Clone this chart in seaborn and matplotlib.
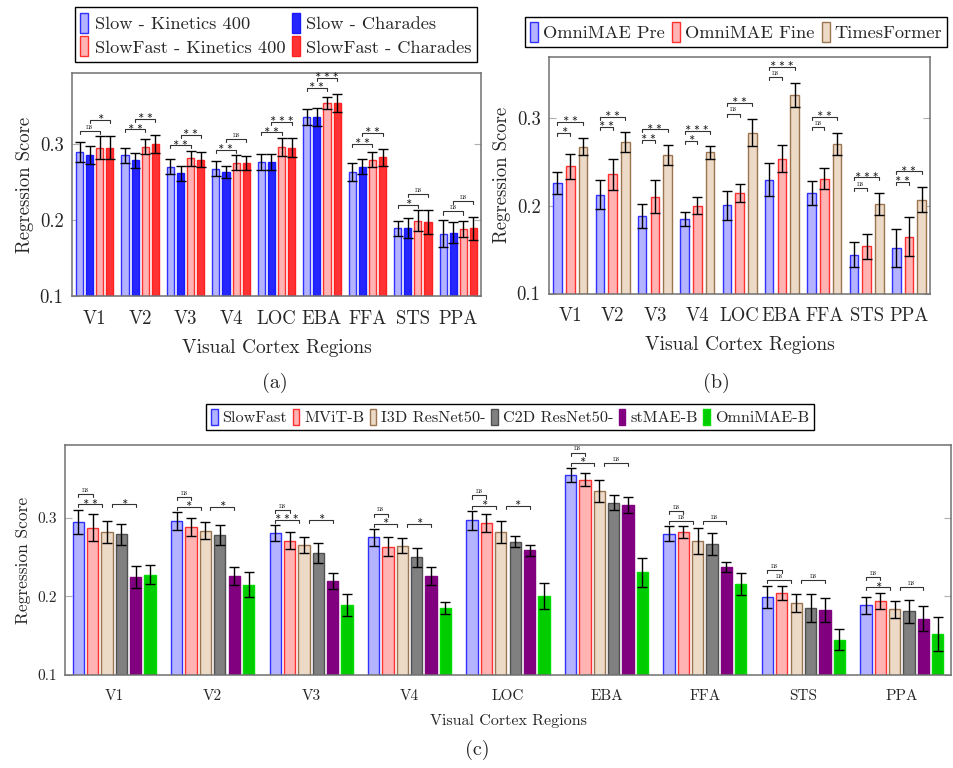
import matplotlib
matplotlib.use("Agg")
import matplotlib.pyplot as plt
from matplotlib.patches import Patch
import seaborn as sns
import pandas as pd

regions = ["V1", "V2", "V3", "V4", "LOC", "EBA", "FFA", "STS", "PPA"]

# (a) Slow / SlowFast backbones
models_a = ["Slow - Kinetics 400", "Slow - Charades", "SlowFast - Kinetics 400", "SlowFast - Charades"]
slow_k400 = [0.289, 0.285, 0.270, 0.267, 0.276, 0.335, 0.263, 0.189, 0.182]
slow_cha = [0.285, 0.278, 0.261, 0.263, 0.276, 0.335, 0.270, 0.189, 0.183]
sf_k400 = [0.295, 0.296, 0.281, 0.275, 0.296, 0.354, 0.279, 0.199, 0.188]
sf_cha = [0.295, 0.300, 0.279, 0.275, 0.295, 0.354, 0.282, 0.197, 0.189]
slow_k400_err = [0.013, 0.010, 0.010, 0.010, 0.010, 0.010, 0.012, 0.010, 0.018]
slow_cha_err = [0.012, 0.010, 0.010, 0.008, 0.010, 0.012, 0.010, 0.013, 0.014]
sf_k400_err = [0.015, 0.010, 0.010, 0.010, 0.012, 0.008, 0.010, 0.014, 0.011]
sf_cha_err = [0.015, 0.012, 0.010, 0.009, 0.012, 0.012, 0.011, 0.016, 0.015]
sig_a_low = ["ns", "**", "**", "**", "**", "**", "**", "*", "ns"]
sig_a_high = ["*", "**", "**", "ns", "***", "***", "**", "ns", "ns"]

# (b) OmniMAE vs TimesFormer
models_b = ["OmniMAE Pre", "OmniMAE Fine", "TimesFormer"]
omni_pre = [0.2265, 0.213, 0.1886, 0.1848, 0.201, 0.230, 0.2146, 0.1444, 0.1517]
omni_fine = [0.245, 0.236, 0.2106, 0.2003, 0.2145, 0.254, 0.231, 0.1537, 0.165]
timesformer = [0.2676, 0.273, 0.258, 0.261, 0.2836, 0.327, 0.271, 0.202, 0.207]
omni_pre_err = [0.0126, 0.017, 0.014, 0.008, 0.0165, 0.019, 0.014, 0.014, 0.0217]
omni_fine_err = [0.014, 0.018, 0.019, 0.0095, 0.0103, 0.015, 0.012, 0.0145, 0.022]
timesformer_err = [0.010, 0.011, 0.0114, 0.007, 0.0156, 0.0137, 0.0126, 0.0126, 0.0145]
sig_b_low = ["*", "**", "**", "*", "ns", "ns", "ns", "ns", "**"]
sig_b_high = ["**", "**", "**", "***", "**", "***", "**", "***", "**"]

# (c) six video models
models_c = ["SlowFast", "MViT-B", "I3D ResNet50-", "C2D ResNet50-", "stMAE-B", "OmniMAE-B"]
slowfast = [0.2949, 0.2957, 0.2808, 0.2753, 0.297, 0.3549, 0.280, 0.1995, 0.1889]
mvit = [0.2876, 0.2885, 0.271, 0.2633, 0.2936, 0.349, 0.282, 0.2046, 0.1948]
i3d = [0.282, 0.2838, 0.266, 0.2646, 0.2821, 0.3349, 0.2706, 0.1918, 0.1838]
c2d = [0.279, 0.2783, 0.2553, 0.250, 0.2697, 0.3195, 0.2672, 0.1855, 0.1812]
stmae = [0.2246, 0.2259, 0.220, 0.2267, 0.2586, 0.317, 0.2378, 0.1829, 0.1718]
omnimae = [0.2276, 0.2148, 0.189, 0.1855, 0.2012, 0.2306, 0.2157, 0.145, 0.152]
slowfast_err = [0.0158, 0.0115, 0.0098, 0.0106, 0.012, 0.0085, 0.0094, 0.014, 0.011]
mvit_err = [0.0175, 0.011, 0.0106, 0.0123, 0.011, 0.0085, 0.0072, 0.0094, 0.0102]
i3d_err = [0.014, 0.011, 0.0102, 0.0094, 0.0136, 0.014, 0.0166, 0.011, 0.011]
c2d_err = [0.013, 0.013, 0.013, 0.0123, 0.0072, 0.0094, 0.014, 0.0175, 0.0145]
stmae_err = [0.014, 0.0115, 0.0102, 0.0115, 0.0072, 0.0102, 0.006, 0.0149, 0.0158]
omnimae_err = [0.0123, 0.0158, 0.014, 0.008, 0.0166, 0.019, 0.0136, 0.0136, 0.022]
sig_c_top = ["ns", "ns", "ns", "ns", "ns", "ns", "ns", "ns", "ns"]
sig_c_mid = ["**", "*", "***", "*", "*", "*", "ns", "ns", "*"]
sig_c_right = ["*", "*", "*", "*", "*", "ns", "ns", "ns", "ns"]

sns.set_style("white")
plt.rcParams["font.family"] = ["cmr10", "DejaVu Serif"]
plt.rcParams["axes.formatter.use_mathtext"] = True


def long_df(models, series):
    rows = []
    for m, vals in zip(models, series):
        for r, v in zip(regions, vals):
            rows.append({"region": r, "model": m, "score": v})
    return pd.DataFrame(rows)


def draw_bars(ax, models, series, errs, faces, edges, width, gap):
    df = long_df(models, series)
    sns.barplot(data=df, x="region", y="score", hue="model", hue_order=models,
                palette=faces, saturation=1, width=width, gap=gap,
                errorbar=None, linewidth=1, legend=False, ax=ax)
    centers = []
    for cont, ec, err in zip(ax.containers, edges, errs):
        xs = []
        for b in cont:
            b.set_edgecolor(ec)
            xs.append(b.get_x() + b.get_width() / 2)
        ys = [b.get_height() for b in cont]
        ax.errorbar(xs, ys, yerr=err, fmt="none", ecolor="black", elinewidth=1,
                    capsize=3.5, capthick=1, zorder=5)
        centers.append(xs)
    return centers


def bracket(ax, x0, x1, y, label, drop, fs):
    ax.plot([x0, x0, x1, x1], [y - drop, y, y, y - drop], color="#333333", lw=0.8, zorder=6)
    if label == "ns":
        ax.text((x0 + x1) / 2, y + drop * 0.1, label, ha="center", va="bottom",
                fontsize=fs, color="#222222")
    else:
        # math asterisks sitting just above the bracket
        ax.text((x0 + x1) / 2, y + drop * 0.25, " ".join("\u2217" * len(label)),
                ha="center", va="baseline", fontsize=fs, color="#222222",
                family="DejaVu Sans")


def style_axes(ax, ylabel_fs, tick_fs):
    ax.set_ylim(0.1, 0.393)
    ax.set_yticks([0.1, 0.2, 0.3])
    ax.set_yticklabels(["0.1", "0.2", "0.3"])
    ax.set_xlim(-0.5, 8.5)
    for s in ax.spines.values():
        s.set_visible(True)
        s.set_color("#707070")
        s.set_linewidth(1.1)
    ax.tick_params(axis="y", direction="in", left=True, right=True, length=5,
                   color="#b0b0b0", labelsize=tick_fs, pad=6)
    ax.tick_params(axis="x", length=0, labelsize=tick_fs, pad=10)
    ax.set_ylabel("Regression Score", fontsize=ylabel_fs)


fig = plt.figure(figsize=(9.54, 7.68), dpi=100)

# ---- (a)
ax_a = fig.add_axes([0.0755, 0.6146, 0.4287, 0.2904])
faces_a = ["#b3b3ff", "#2626ff", "#ffb3b3", "#ff3333"]
edges_a = ["#3030ff", "#1a1aff", "#ff3030", "#ff2020"]
cen = draw_bars(ax_a, models_a, [slow_k400, slow_cha, sf_k400, sf_cha],
                [slow_k400_err, slow_cha_err, sf_k400_err, sf_cha_err],
                faces_a, edges_a, 0.89, 0.3)
style_axes(ax_a, 13.5, 13.5)
ax_a.set_xlabel("Visual Cortex Regions", fontsize=14, labelpad=8)
tops_a = [max(v[j] + e[j] for v, e in zip([slow_k400, slow_cha, sf_k400, sf_cha],
                                         [slow_k400_err, slow_cha_err, sf_k400_err, sf_cha_err]))
          for j in range(len(regions))]
for j in range(len(regions)):
    y_low = tops_a[j] + 0.007
    bracket(ax_a, cen[0][j], cen[2][j], y_low, sig_a_low[j], 0.004, 5.5)
    bracket(ax_a, cen[1][j], cen[3][j], y_low + 0.014, sig_a_high[j], 0.004, 5.5)

hand_a = [Patch(facecolor=f, edgecolor=e) for f, e in zip(faces_a, edges_a)]
order = [0, 2, 1, 3]
fig.legend([hand_a[i] for i in order], [models_a[i] for i in order], loc="center",
           bbox_to_anchor=(0.2893, 0.955), ncol=2, fontsize=13.2, frameon=True,
           fancybox=False, edgecolor="black", framealpha=1, handlelength=0.45,
           handleheight=1.3, handletextpad=0.35, columnspacing=0.35, borderpad=0.3,
           labelspacing=0.2)
fig.text(275 / 954, 1 - 383 / 768, "(a)", fontsize=14.5, ha="center", va="center")

# ---- (b)
ax_b = fig.add_axes([0.5755, 0.6178, 0.3994, 0.3080])
faces_b = ["#b3b3ff", "#ffb3b3", "#ecd9c6"]
edges_b = ["#3030ff", "#ff3030", "#9a7550"]
cen = draw_bars(ax_b, models_b, [omni_pre, omni_fine, timesformer],
                [omni_pre_err, omni_fine_err, timesformer_err],
                faces_b, edges_b, 0.9, 0.32)
style_axes(ax_b, 13.5, 13.5)
ax_b.set_ylim(0.1, 0.37)
ax_b.set_xlabel("Visual Cortex Regions", fontsize=14, labelpad=8)
tops_b = [max(v[j] + e[j] for v, e in zip([omni_pre, omni_fine, timesformer],
                                         [omni_pre_err, omni_fine_err, timesformer_err]))
          for j in range(len(regions))]
for j in range(len(regions)):
    y_low = tops_b[j] + 0.006
    bracket(ax_b, cen[0][j], cen[1][j], y_low, sig_b_low[j], 0.0035, 5.5)
    bracket(ax_b, cen[0][j], cen[2][j], y_low + 0.012, sig_b_high[j], 0.0035, 5.5)

hand_b = [Patch(facecolor=f, edgecolor=e) for f, e in zip(faces_b, edges_b)]
fig.legend(hand_b, models_b, loc="center", bbox_to_anchor=(736 / 954, 1 - 32 / 768),
           ncol=3, fontsize=13.2, frameon=True, fancybox=False, edgecolor="black",
           framealpha=1, handlelength=0.45, handleheight=1.3, handletextpad=0.25,
           columnspacing=0.4, borderpad=0.25)
fig.text(716 / 954, 1 - 383 / 768, "(b)", fontsize=14.5, ha="center", va="center")

# ---- (c)
ax_c = fig.add_axes([0.0681, 0.1211, 0.9288, 0.2995])
faces_c = ["#b3b3ff", "#ffb3b3", "#ecd9c6", "#808080", "#800080", "#00cc00"]
edges_c = ["#3030ff", "#ff3030", "#9a7550", "#505050", "#800080", "#00dd00"]
series_c = [slowfast, mvit, i3d, c2d, stmae, omnimae]
errs_c = [slowfast_err, mvit_err, i3d_err, c2d_err, stmae_err, omnimae_err]
cen = draw_bars(ax_c, models_c, series_c, errs_c, faces_c, edges_c, 0.875, 0.21)
style_axes(ax_c, 12.5, 11)
ax_c.set_xlabel("Visual Cortex Regions", fontsize=11.5, labelpad=8)
tops_c = [max(v[j] + e[j] for v, e in zip(series_c, errs_c)) for j in range(len(regions))]
inset = 0.05
for j in range(len(regions)):
    y_mid = tops_c[j] + 0.0067
    bracket(ax_c, cen[0][j], cen[2][j] - inset, y_mid, sig_c_mid[j], 0.004, 5.5)
    bracket(ax_c, cen[2][j] + inset, cen[4][j], y_mid, sig_c_right[j], 0.004, 5.5)
    bracket(ax_c, cen[0][j], cen[1][j], y_mid + 0.013, sig_c_top[j], 0.004, 5.5)

hand_c = [Patch(facecolor=f, edgecolor=e) for f, e in zip(faces_c, edges_c)]
fig.legend(hand_c, models_c, loc="center", bbox_to_anchor=(510 / 954, 1 - 417 / 768),
           ncol=6, fontsize=11.7, frameon=True, fancybox=False, edgecolor="black",
           framealpha=1, handlelength=0.4, handleheight=1.2, handletextpad=0.3,
           columnspacing=0.35, borderpad=0.3)
fig.text(477 / 954, 1 - 750 / 768, "(c)", fontsize=14.5, ha="center", va="center")

fig.savefig("out.png", dpi=100)
